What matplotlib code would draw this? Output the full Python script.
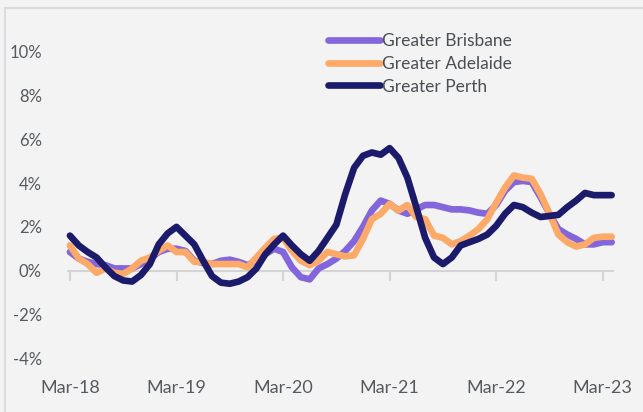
import numpy as np
import matplotlib
matplotlib.use("Agg")
import matplotlib.pyplot as plt
from matplotlib.patches import Rectangle

# monthly, Mar-18 .. Apr-23
months = ["Mar-18", "Mar-19", "Mar-20", "Mar-21", "Mar-22", "Mar-23"]
brisbane = [0.85, 0.55, 0.4, 0.3, 0.25, 0.1, 0.1, 0.1, 0.3, 0.55, 0.85, 1.0,
            1.0, 0.9, 0.45, 0.35, 0.3, 0.45, 0.5, 0.4, 0.25, 0.45, 0.75, 1.0,
            0.85, 0.15, -0.3, -0.4, 0.1, 0.3, 0.55, 0.9, 1.35, 2.0, 2.75, 3.2,
            3.05, 2.75, 2.6, 2.8, 3.0, 3.0, 2.9, 2.8, 2.8, 2.75, 2.65, 2.6,
            3.0, 3.65, 4.05, 4.1, 4.05, 3.35, 2.6, 1.9, 1.65, 1.45, 1.2, 1.2,
            1.3, 1.3]
adelaide = [1.15, 0.55, 0.3, -0.1, 0.1, -0.1, -0.15, 0.1, 0.45, 0.6, 0.9, 1.15,
            0.85, 0.85, 0.4, 0.4, 0.3, 0.3, 0.3, 0.3, 0.15, 0.6, 1.05, 1.45,
            1.5, 0.9, 0.45, 0.25, 0.45, 0.85, 0.75, 0.65, 0.7, 1.45, 2.35, 2.6,
            3.05, 2.75, 3.0, 2.45, 2.35, 1.6, 1.5, 1.2, 1.35, 1.6, 1.9, 2.35,
            3.1, 3.8, 4.35, 4.25, 4.2, 3.5, 2.6, 1.65, 1.3, 1.1, 1.2, 1.5,
            1.55, 1.55]
perth = [1.6, 1.15, 0.85, 0.6, 0.15, -0.25, -0.45, -0.5, -0.2, 0.3, 1.2, 1.7,
         2.0, 1.6, 1.2, 0.45, -0.25, -0.55, -0.6, -0.5, -0.3, 0.1, 0.75, 1.2,
         1.6, 1.15, 0.75, 0.45, 0.9, 1.5, 2.1, 3.5, 4.7, 5.25, 5.4, 5.3,
         5.6, 5.15, 4.25, 2.9, 1.5, 0.6, 0.3, 0.6, 1.15, 1.3, 1.45, 1.65,
         2.05, 2.6, 3.0, 2.9, 2.65, 2.45, 2.5, 2.55, 2.9, 3.2, 3.55, 3.45,
         3.45, 3.45]

x = np.arange(len(perth))
bg = "#f3f3f3"
txt = "#555a60"

plt.rcParams["font.family"] = ["Lato", "DejaVu Sans"]

fig = plt.figure(figsize=(6.43, 4.12), dpi=100, facecolor=bg)
fig.patches.append(Rectangle((0.008, -0.05), 1.1, 1.03, transform=fig.transFigure,
                             fill=False, edgecolor="#dcdce0", linewidth=1.5))
ax = fig.add_axes([0.106, 0.0777, 0.848, 0.8495])
ax.set_facecolor(bg)

series = [("Greater Brisbane", brisbane, "#8466dc"),
          ("Greater Adelaide", adelaide, "#fdaa68"),
          ("Greater Perth", perth, "#1c1a6b")]
for name, vals, col in series:
    ax.plot(x, vals, color=col, lw=4.8, label=name, solid_capstyle="round",
            solid_joinstyle="round", clip_on=False)

ax.set_xlim(-0.2, 61.2)
ax.set_ylim(-5, 11)
ax.set_yticks(np.arange(-4, 11, 2))
ax.set_yticklabels([f"{v}%" for v in range(-4, 11, 2)])
ax.tick_params(axis="y", length=0, labelsize=12, labelcolor=txt, pad=19)

for s in ["top", "right", "left"]:
    ax.spines[s].set_visible(False)
ax.spines["bottom"].set_position(("data", 0))
ax.spines["bottom"].set_color("#d4d4d4")
ax.spines["bottom"].set_linewidth(1.5)
ax.spines["bottom"].set_zorder(0)
ticks = np.arange(0, 61, 12)
ax.set_xticks(ticks)
ax.tick_params(axis="x", length=7, width=1.5, color="#d4d4d4", labelbottom=False)

sec = ax.secondary_xaxis("bottom")
sec.set_xticks(ticks)
sec.set_xticklabels(months)
sec.spines["bottom"].set_visible(False)
sec.tick_params(axis="x", length=0, labelsize=13, labelcolor=txt, pad=0)

leg = ax.legend(loc="upper left", bbox_to_anchor=(0.447, 1.035), frameon=False,
                fontsize=12.5, labelcolor="#4a4f55", handlelength=3.0,
                handletextpad=0.12, labelspacing=0.38)
for h in leg.get_lines():
    h.set_linewidth(4.8)

fig.savefig("out.png", dpi=100, facecolor=bg)
